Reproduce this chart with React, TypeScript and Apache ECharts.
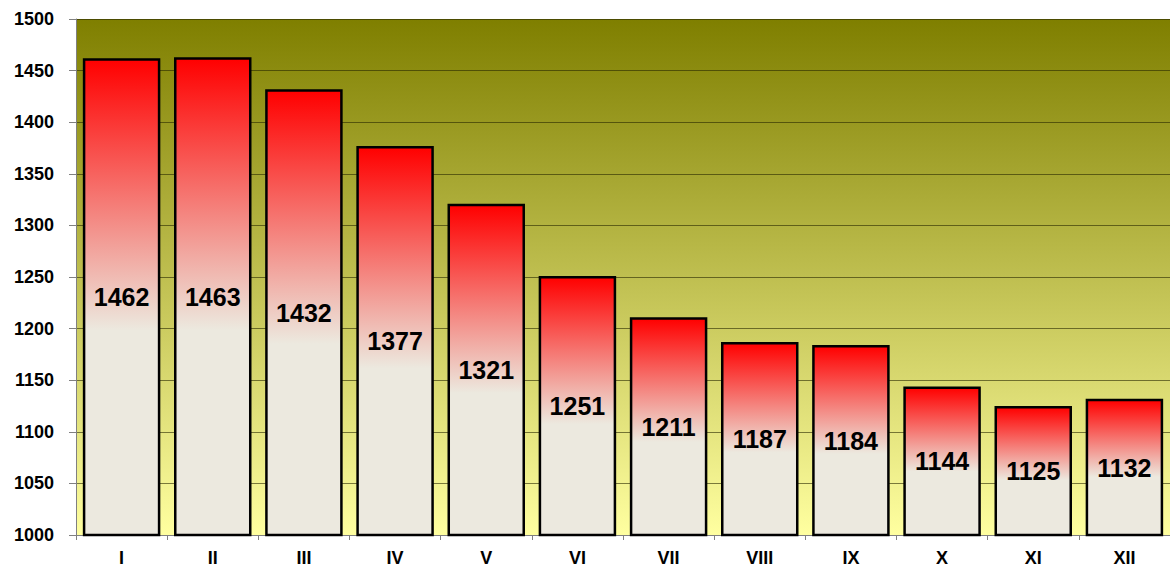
import React, { useEffect, useRef } from "react";
import * as echarts from "echarts";

const categories = ["I", "II", "III", "IV", "V", "VI", "VII", "VIII", "IX", "X", "XI", "XII"];
const values = [1462, 1463, 1432, 1377, 1321, 1251, 1211, 1187, 1184, 1144, 1125, 1132];
const yMin = 1000;
const yMax = 1500;
const yStep = 50;

export default function App() {
  const ref = useRef<HTMLDivElement>(null);
  useEffect(() => {
    document.body.style.margin = "0";
    const chart = echarts.init(ref.current!, null, { renderer: "svg" });
    const font = "'Liberation Sans', Arial, sans-serif";
    chart.setOption({
      animation: false,
      grid: {
        left: 76,
        top: 19,
        right: 0,
        bottom: 33,
        show: true,
        borderWidth: 0,
        backgroundColor: new echarts.graphic.LinearGradient(0, 0, 0, 1, [
          { offset: 0, color: "#7f7f00" },
          { offset: 1, color: "#ffffa0" },
        ]),
      },
      xAxis: {
        type: "category",
        data: categories,
        axisLine: { lineStyle: { color: "#808080", width: 1 } },
        axisTick: { show: true, length: 5, lineStyle: { color: "#808080" } },
        axisLabel: {
          color: "#000",
          fontFamily: font,
          fontWeight: "bold",
          fontSize: 18,
          margin: 14,
        },
      },
      yAxis: {
        type: "value",
        min: yMin,
        max: yMax,
        interval: yStep,
        axisLine: { show: true, lineStyle: { color: "#808080", width: 1 } },
        axisTick: { show: true, length: 7, lineStyle: { color: "#808080" } },
        axisLabel: {
          color: "#000",
          fontFamily: font,
          fontWeight: "bold",
          fontSize: 18,
          margin: 22,
          formatter: (v: number) => String(v),
        },
        splitLine: { show: true, lineStyle: { color: "rgba(40,40,0,0.6)", width: 1 } },
      },
      series: [
        {
          type: "bar",
          data: values,
          barCategoryGap: "15%",
          itemStyle: {
            borderColor: "#000",
            borderWidth: 2.5,
            color: new echarts.graphic.LinearGradient(0, 0, 0, 1, [
              { offset: 0, color: "#ff0000" },
              { offset: 0.57, color: "#ece9df" },
              { offset: 1, color: "#ece9df" },
            ]),
          },
          label: {
            show: true,
            position: "inside",
            color: "#000",
            fontFamily: font,
            fontWeight: "bold",
            fontSize: 25,
          },
        },
      ],
    });
    return () => chart.dispose();
  }, []);
  return <div ref={ref} style={{ width: 1170, height: 568 }} />;
}
